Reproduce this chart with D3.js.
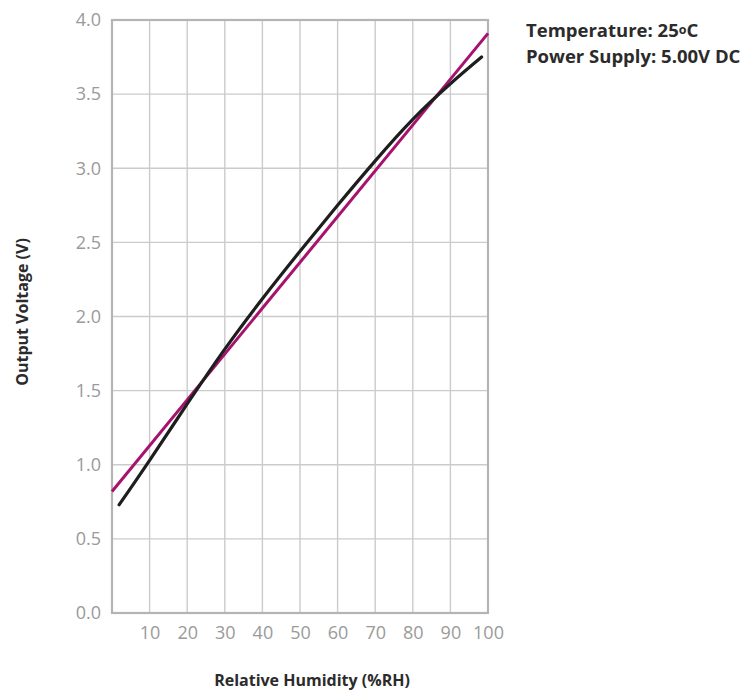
<!DOCTYPE html>
<html>
<head>
<meta charset="utf-8">
<script src="https://cdn.jsdelivr.net/npm/d3@7"></script>
<style>
  body { margin: 0; background: #fff; }
  svg { display: block; font-family: "Open Sans", "Noto Sans", sans-serif; }
</style>
</head>
<body>
<svg id="chart" width="754" height="693"></svg>
<script>
// measured response (black) and best-fit line (magenta)
let humidity = [1.9, 10, 20, 30, 40, 50, 60, 70, 80, 90, 98.3];
let voltage = [0.73, 1.03, 1.41, 1.78, 2.12, 2.44, 2.75, 3.05, 3.33, 3.57, 3.75];
let fit_x = [0, 100];
let fit_y = [0.82, 3.91];
let x_ticks = [10, 20, 30, 40, 50, 60, 70, 80, 90, 100];
let y_ticks = [0, 0.5, 1, 1.5, 2, 2.5, 3, 3.5, 4];
let notes = ["Temperature: 25", "Power Supply: 5.00V DC"];

let margin = { top: 20, right: 266, bottom: 80, left: 112 };
let svg = d3.select("#chart");
let width = +svg.attr("width") - margin.left - margin.right;
let height = +svg.attr("height") - margin.top - margin.bottom;
let g = svg.append("g").attr("transform", `translate(${margin.left}, ${margin.top})`);

let x = d3.scaleLinear().domain([0, 100]).range([0, width]);
let y = d3.scaleLinear().domain([0, 4]).range([height, 0]);

// grid
g.append("g")
    .selectAll("line")
    .data(x_ticks)
    .enter().append("line")
        .attr("x1", d => x(d)).attr("x2", d => x(d))
        .attr("y1", 0).attr("y2", height)
        .attr("stroke", "#cbcbcb").attr("stroke-width", 1.4);
g.append("g")
    .selectAll("line")
    .data(y_ticks)
    .enter().append("line")
        .attr("x1", 0).attr("x2", width)
        .attr("y1", d => y(d)).attr("y2", d => y(d))
        .attr("stroke", "#cbcbcb").attr("stroke-width", 1.4);
g.append("rect")
    .attr("width", width).attr("height", height)
    .attr("fill", "none").attr("stroke", "#b4b4b4").attr("stroke-width", 2.2);

// axes
let xAxis = g.append("g")
    .attr("transform", `translate(0, ${height})`)
    .call(d3.axisBottom(x).tickValues(x_ticks).tickSize(0).tickPadding(13));
let yAxis = g.append("g")
    .call(d3.axisLeft(y).tickValues(y_ticks).tickSize(0).tickPadding(11).tickFormat(d3.format(".1f")));
[xAxis, yAxis].forEach(a => {
    a.attr("font-family", null).attr("font-size", null);
    a.select(".domain").remove();
    a.selectAll("text").attr("fill", "#9a9a9a").attr("font-size", "18px");
});

g.append("text")
    .attr("x", 312 - margin.left).attr("y", 686 - margin.top)
    .attr("text-anchor", "middle")
    .attr("font-size", "16px").attr("font-weight", "bold").attr("fill", "#2b2b2b")
    .text("Relative Humidity (%RH)");
g.append("text")
    .attr("transform", "rotate(-90)")
    .attr("x", -(312 - margin.top)).attr("y", -84)
    .attr("text-anchor", "middle")
    .attr("font-size", "16px").attr("font-weight", "bold").attr("fill", "#2b2b2b")
    .text("Output Voltage (V)");

// lines
let fit_line = d3.line()
    .x((d, i) => x(fit_x[i]))
    .y(d => y(d));
g.append("path")
    .datum(fit_y)
    .attr("fill", "none").attr("stroke", "#a8126f").attr("stroke-width", 3)
    .attr("d", fit_line);

let curve = d3.line()
    .x((d, i) => x(humidity[i]))
    .y(d => y(d))
    .curve(d3.curveNatural);
g.append("path")
    .datum(voltage)
    .attr("fill", "none").attr("stroke", "#1e1e1e").attr("stroke-width", 3.2)
    .attr("stroke-linecap", "round")
    .attr("d", curve);

// conditions
let t1 = svg.append("text")
    .attr("x", 526).attr("y", 37)
    .attr("font-size", "18.5px").attr("font-weight", "bold").attr("fill", "#2b2b2b");
t1.append("tspan").text(notes[0]);
t1.append("tspan").attr("font-size", "12.5px").attr("dy", -3).text("o");
t1.append("tspan").attr("dy", 3).text("C");
svg.append("text")
    .attr("x", 526).attr("y", 63)
    .attr("font-size", "18.5px").attr("font-weight", "bold").attr("fill", "#2b2b2b")
    .text(notes[1]);
</script>
</body>
</html>
